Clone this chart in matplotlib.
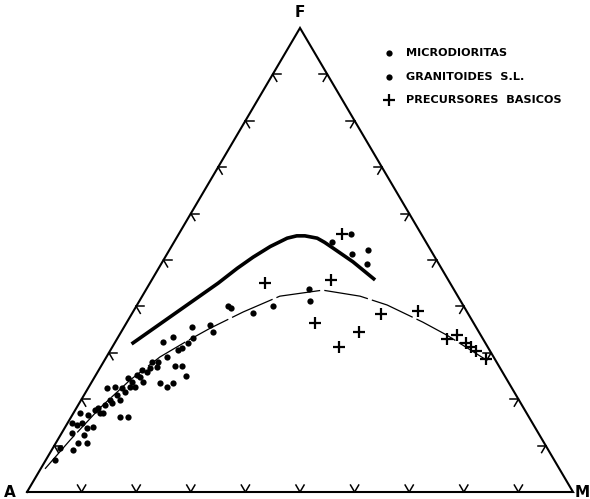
import numpy as np
import matplotlib.pyplot as plt

plt.rcParams['font.family'] = ['DejaVu Sans']
plt.rcParams['lines.scale_dashes'] = False

# Diagrama AFM, valores en % de F y M (A = 100 - F - M)
granit_F = [6.9, 9.5, 9.1, 10.6, 10.6, 12.7, 12.3, 13.8, 14.0, 14.4, 14.9, 17.0, 16.6,
            17.7, 18.1, 17.0, 18.8, 19.8, 19.8, 20.9, 16.2, 16.2, 22.4, 22.6, 22.4, 22.6,
            23.7, 24.6, 24.8, 25.9, 26.7, 23.5, 22.6, 23.5, 28.0, 29.1, 27.2, 27.2, 25.0,
            31.0, 33.4, 32.3, 32.1, 33.2, 35.6, 36.0, 34.5, 40.1, 39.7, 38.6, 40.1, 43.8,
            41.2, 26.3, 25.2, 28.0, 26.9, 23.7, 19.2, 17.0, 21.6, 22.6, 14.9, 30.6]
granit_M = [1.6, 1.3, 3.9, 4.0, 5.7, 1.9, 4.2, 4.1, 5.1, 2.0, 2.6, 1.2, 2.9,
            3.6, 4.0, 4.9, 4.9, 5.3, 7.1, 6.0, 8.9, 10.4, 3.5, 4.8, 6.2, 8.5,
            7.4, 6.2, 8.3, 9.0, 9.2, 12.6, 14.3, 15.0, 10.0, 11.0, 13.5, 14.8, 16.6,
            12.9, 10.0, 8.8, 13.4, 13.8, 12.4, 15.5, 16.8, 16.8, 17.6, 22.1, 25.0, 29.7,
            31.2, 8.0, 7.5, 8.9, 10.4, 9.4, 6.0, 5.4, 7.1, 7.6, 0.8, 12.4]

micro_F = [55.6, 53.9, 51.3, 52.2, 49.1]
micro_M = [31.5, 29.0, 33.8, 36.4, 37.8]

basic_F = [55.6, 45.0, 45.7, 36.4, 34.5, 31.3, 38.4, 39.0, 33.0, 33.8, 32.1, 31.3, 30.4, 28.7]
basic_M = [29.9, 21.1, 32.8, 34.5, 43.6, 41.4, 45.6, 52.1, 60.4, 61.9, 64.3, 65.7, 67.0, 69.8]

# linea gruesa (tendencia superior)
upper_F = [31.9, 45.0, 48.2, 50.6, 52.9, 54.7, 55.2, 55.2, 54.7, 53.8, 52.6, 49.6, 45.7]
upper_M = [3.2, 12.5, 14.4, 16.1, 18.1, 20.3, 21.8, 23.3, 25.8, 27.6, 29.7, 34.9, 40.9]

# linea fina discontinua (tendencia inferior)
lower_F = [5.0, 11.2, 18.1, 24.1, 29.1, 32.5, 35.3, 38.8, 42.2, 43.5, 42.2, 40.3, 36.6, 33.8, 28.4]
lower_M = [0.8, 2.3, 4.3, 6.8, 9.8, 13.0, 15.9, 20.2, 25.2, 32.4, 39.9, 45.8, 54.2, 60.0, 70.0]


def tern(F, M):
    F = np.asarray(F, float)
    M = np.asarray(M, float)
    return M + F / 2, F * np.sqrt(3) / 2


fig = plt.figure(figsize=(5.9, 4.99), dpi=100)
ax = fig.add_axes([0, 0, 1, 1])
ax.set_xlim(-4.945, 103.11)
ax.set_ylim(-1.306, 91.82)
ax.axis('off')

# triangulo
tx, ty = tern([0, 0, 100, 0], [0, 100, 0, 0])
ax.plot(tx, ty, color='black', lw=1.5, solid_joinstyle='miter')

# marcas cada 10 %
L = 1.5
for t in range(10, 100, 10):
    # lado A-F (M = 0)
    for F2, M2 in [(t, L), (t - L, L)]:
        x, y = tern([t, F2], [0, M2])
        ax.plot(x, y, color='black', lw=1.1)
    # lado F-M (A = 0)
    for F2, M2 in [(t, 100 - t - L), (t - L, 100 - t)]:
        x, y = tern([t, F2], [100 - t, M2])
        ax.plot(x, y, color='black', lw=1.1)
    # lado A-M (F = 0)
    for F2, M2 in [(L, t - L), (L, t)]:
        x, y = tern([0, F2], [t, M2])
        ax.plot(x, y, color='black', lw=1.1)

x, y = tern(upper_F, upper_M)
ax.plot(x, y, color='black', lw=2.6, solid_capstyle='butt', solid_joinstyle='round')
x, y = tern(lower_F, lower_M)
ax.plot(x, y, color='black', lw=0.9, dashes=(32, 3))

x, y = tern(granit_F, granit_M)
ax.plot(x, y, 'o', color='black', ms=4.5, mew=0)
x, y = tern(micro_F, micro_M)
ax.plot(x, y, 'o', color='black', ms=4.5, mew=0)
x, y = tern(basic_F, basic_M)
ax.plot(x, y, '+', color='black', ms=8.5, mew=1.6)

# vertices
ax.text(50, 89.4, 'F', ha='center', va='center', fontsize=11, fontweight='bold')
ax.text(-3.2, 0, 'A', ha='center', va='center', fontsize=11, fontweight='bold')
ax.text(101.7, 0, 'M', ha='center', va='center', fontsize=11, fontweight='bold')

# leyenda
ley = [('o', 'MICRODIORITAS', 0.894), ('o', 'GRANITOIDES  S.L.', 0.846), ('+', 'PRECURSORES  BASICOS', 0.80)]
for mk, lab, yy in ley:
    if mk == 'o':
        ax.plot([0.66], [yy], 'o', color='black', ms=4.5, mew=0, transform=ax.transAxes)
    else:
        ax.plot([0.66], [yy], '+', color='black', ms=8, mew=1.6, transform=ax.transAxes)
    ax.text(0.688, yy, lab, transform=ax.transAxes, ha='left', va='center',
            fontsize=8.1, fontweight='bold')

plt.savefig('out.png', dpi=100)
